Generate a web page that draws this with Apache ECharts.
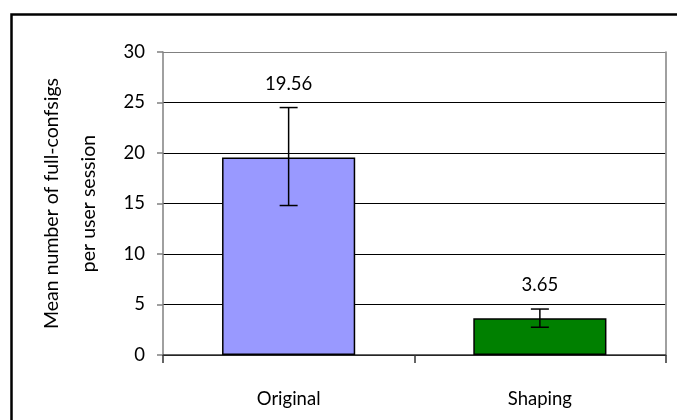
<!DOCTYPE html>
<html><head><meta charset="utf-8">
<script src="https://cdn.jsdelivr.net/npm/echarts@6/dist/echarts.min.js"></script>
<style>html,body{margin:0;padding:0;background:#fff}#c{width:677px;height:420px}</style>
</head><body><div id="c"></div>
<script>
var categories = ['Original', 'Shaping'];
var means = [19.56, 3.65];
var errLow = [14.8, 2.75];
var errHigh = [24.5, 4.55];
var barColors = ['#9999FF', '#008000'];
var yTicks = [0, 5, 10, 15, 20, 25, 30];

var FONT = 'Lato';
var chart = echarts.init(document.getElementById('c'), null, {renderer: 'canvas'});
chart.setOption({
  animation: false,
  backgroundColor: '#fff',
  grid: {left: 163, right: 11.5, top: 52, bottom: 65},
  xAxis: {
    type: 'category', data: categories,
    axisLine: {lineStyle: {color: '#333', width: 1.5}},
    axisTick: {show: true, alignWithLabel: false, length: 8, lineStyle: {color: '#333', width: 1.5}},
    axisLabel: {margin: 35, color: '#000', fontSize: 18.5, fontFamily: FONT}
  },
  yAxis: [{
    type: 'value', min: yTicks[0], max: yTicks[yTicks.length-1], interval: 5,
    name: 'Mean number of full-confsigs\nper user session',
    nameLocation: 'middle', nameRotate: 90, nameGap: 56,
    nameTextStyle: {fontSize: 19.5, fontFamily: FONT, color: '#000', lineHeight: 37},
    axisLine: {show: true, lineStyle: {color: '#808080', width: 1.5}},
    axisTick: {show: true, length: 6, lineStyle: {color: '#808080', width: 1.5}},
    axisLabel: {margin: 18, color: '#000', fontSize: 18.5, fontFamily: FONT},
    splitLine: {show: true, lineStyle: {color: ['#000','#000','#000','#000','#000','#000','#808080'], width: 1}}
  }, {
    type: 'value', min: yTicks[0], max: yTicks[yTicks.length-1], interval: 5, position: 'right',
    axisLine: {show: true, lineStyle: {color: '#808080', width: 1.5}},
    axisTick: {show: false}, axisLabel: {show: false}, splitLine: {show: false}
  }],
  series: [{
    type: 'bar', barWidth: '53%',
    data: means.map(function (v, i) {
      return {value: v, itemStyle: {color: barColors[i], borderColor: '#000', borderWidth: 1.5}};
    })
  }, {
    type: 'custom',
    data: categories.map(function (c, i) { return [i, errLow[i], errHigh[i], means[i]]; }),
    renderItem: function (params, api) {
      var i = api.value(0);
      var lo = api.coord([i, api.value(1)]);
      var hi = api.coord([i, api.value(2)]);
      var x = hi[0], hw = 9;
      return {type: 'group', children: [
        {type: 'line', shape: {x1: x, y1: hi[1], x2: x, y2: lo[1]}, style: {stroke: '#000', lineWidth: 1.5}},
        {type: 'line', shape: {x1: x - hw, y1: hi[1], x2: x + hw, y2: hi[1]}, style: {stroke: '#000', lineWidth: 1.5}},
        {type: 'line', shape: {x1: x - hw, y1: lo[1], x2: x + hw, y2: lo[1]}, style: {stroke: '#000', lineWidth: 1.5}},
        {type: 'text', x: x, y: hi[1] - 24, style: {text: api.value(3).toFixed(2), fill: '#000', fontSize: 18.5, fontFamily: FONT, align: 'center', verticalAlign: 'middle'}}
      ]};
    },
    z: 5
  }],
  graphic: [{
    type: 'rect', left: 9, top: 12, shape: {x: 0, y: 0, width: 720, height: 460},
    style: {fill: 'none', stroke: '#000', lineWidth: 2.5}, silent: true
  }]
});
</script></body></html>
